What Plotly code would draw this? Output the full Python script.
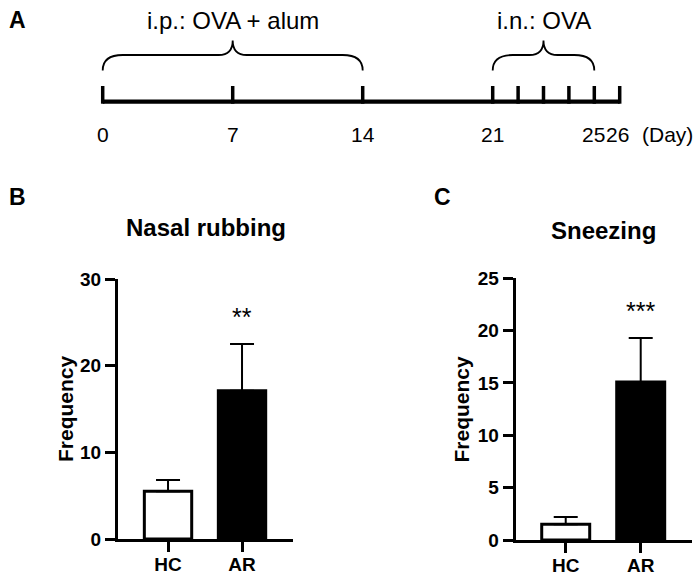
import plotly.graph_objects as go

# ---------------- data ----------------
timeline_days = [0, 7, 14, 21, 22, 23, 24, 25, 26]
labeled_days = [0, 7, 14, 21, 25, 26]
ip_span = [0, 14]
in_span = [21, 25]
ip_label = "i.p.: OVA + alum"
in_label = "i.n.: OVA"
day_unit = "(Day)"

groups = ["HC", "AR"]
nasal_mean = [5.5, 17.1]
nasal_sem = [1.3, 5.4]
nasal_sig = "**"
sneeze_mean = [1.5, 15.1]
sneeze_sem = [0.7, 4.2]
sneeze_sig = "***"

# ---------------- layout constants ----------------
W, H = 700, 584
FONT = "Liberation Sans, Arial, sans-serif"
PX_PER_DAY = (492.7 - 102.7) / 21
LATE_FACTOR = 25.4 / PX_PER_DAY  # schematic: days after 21 are drawn wider


def pos(d):
    return d if d <= 21 else 21 + (d - 21) * LATE_FACTOR


LINE_Y, TICK_TOP = 101.7, 86.0
BR_END, BR_MID, BR_PEAK = 70.5, 55.0, 40.5
LABEL_Y, TEXT_Y = 134.0, 20.0

fig = go.Figure()

# timeline base line
fig.add_trace(go.Scatter(x=[pos(timeline_days[0]), pos(timeline_days[-1])], y=[LINE_Y, LINE_Y],
                         mode="lines", line=dict(color="black", width=4.2),
                         xaxis="x", yaxis="y", hoverinfo="skip", showlegend=False))
# timeline ticks
tx, ty = [], []
for d in timeline_days:
    tx += [pos(d), pos(d), None]
    ty += [LINE_Y + 2, TICK_TOP, None]
fig.add_trace(go.Scatter(x=tx, y=ty, mode="lines", line=dict(color="black", width=3.5),
                         xaxis="x", yaxis="y", hoverinfo="skip", showlegend=False))


def brace_path(d0, d1):
    x0, x1 = pos(d0), pos(d1)
    xm = (x0 + x1) / 2
    r = 20 / PX_PER_DAY
    r2 = 14 / PX_PER_DAY
    return (f"M {x0},{BR_END} Q {x0},{BR_MID} {x0 + r},{BR_MID} "
            f"L {xm - r2},{BR_MID} Q {xm},{BR_MID} {xm},{BR_PEAK} "
            f"Q {xm},{BR_MID} {xm + r2},{BR_MID} "
            f"L {x1 - r},{BR_MID} Q {x1},{BR_MID} {x1},{BR_END}")


shapes = []
annotations = []
for span, lab in [(ip_span, ip_label), (in_span, in_label)]:
    shapes.append(dict(type="path", path=brace_path(*span), xref="x", yref="y",
                       line=dict(color="black", width=1.8)))
    annotations.append(dict(x=(pos(span[0]) + pos(span[1])) / 2, y=TEXT_Y, xref="x", yref="y",
                            text=lab, showarrow=False, font=dict(family=FONT, size=24, color="black")))

label_nudge = {25: -1, 26: -2}
for d in labeled_days:
    annotations.append(dict(x=pos(d), y=LABEL_Y, xref="x", yref="y", text=str(d), showarrow=False,
                            xshift=label_nudge.get(d, 0),
                            font=dict(family=FONT, size=21, color="black")))
annotations.append(dict(x=pos(timeline_days[-1]), y=LABEL_Y, xref="x", yref="y", text=day_unit,
                        showarrow=False, xanchor="left", xshift=20,
                        font=dict(family=FONT, size=21, color="black")))

# bar panels
for mean, sem, xa, ya in [(nasal_mean, nasal_sem, "x2", "y2"), (sneeze_mean, sneeze_sem, "x3", "y3")]:
    fig.add_trace(go.Bar(x=groups, y=mean, width=0.64,
                         marker=dict(color=["white", "black"], line=dict(color="black", width=3)),
                         error_y=dict(type="data", array=sem, arrayminus=[0] * len(sem), symmetric=False,
                                      color="black", thickness=2, width=12),
                         xaxis=xa, yaxis=ya, hoverinfo="skip", showlegend=False))

annotations.append(dict(x=groups[1], y=26.2, xref="x2", yref="y2", text=nasal_sig, showarrow=False,
                        yanchor="middle", yshift=-5, font=dict(family=FONT, size=25, color="black")))
annotations.append(dict(x=groups[1], y=22.4, xref="x3", yref="y3", text=sneeze_sig, showarrow=False,
                        yanchor="middle", yshift=-5, font=dict(family=FONT, size=25, color="black")))


# titles, axis titles, panel letters (paper coords from pixel positions)
def px(x, y):
    return x / W, 1 - y / H


for txt, (x, y), size in [("Nasal rubbing", px(205.5, 227), 24), ("Sneezing", px(603.7, 230), 24),
                          ("A", px(17, 20), 23), ("B", px(17, 197), 23), ("C", px(442, 197), 23)]:
    annotations.append(dict(x=x, y=y, xref="paper", yref="paper", text=txt, showarrow=False,
                            xanchor="center", yanchor="middle",
                            font=dict(family=FONT, size=size, color="black", weight="bold")))
for x in [65, 460.5]:
    xx, yy = px(x, 409)
    annotations.append(dict(x=xx, y=yy, xref="paper", yref="paper", text="Frequency", showarrow=False,
                            textangle=-90, xanchor="center", yanchor="middle",
                            font=dict(family=FONT, size=21, color="black", weight="bold")))

axis_style = dict(showline=True, linewidth=3, linecolor="black", ticks="outside", ticklen=10,
                  tickwidth=3, tickcolor="black", showgrid=False, zeroline=False, automargin=False,
                  tickfont=dict(family=FONT, size=19, color="black", weight="bold"), fixedrange=True)
xcat_style = {**axis_style, "ticklabelstandoff": -4,
              "tickfont": dict(family=FONT, size=19, color="black", weight="bold")}

fig.update_layout(
    template="none",
    width=W, height=H, margin=dict(l=0, r=0, t=0, b=0, pad=0, autoexpand=False),
    paper_bgcolor="white", plot_bgcolor="white", showlegend=False,
    xaxis=dict(domain=[0, 1], range=[-102.7 / PX_PER_DAY, (W - 102.7) / PX_PER_DAY], visible=False,
               automargin=False, fixedrange=True),
    yaxis=dict(domain=[1 - 150 / H, 1], range=[150, 0], visible=False, automargin=False, fixedrange=True),
    xaxis2=dict(domain=[118 / W, 293 / W], anchor="y2", type="category", range=[-0.676, 1.689], **xcat_style),
    yaxis2=dict(domain=[1 - 539 / H, 1 - 279 / H], anchor="x2", range=[0, 30], tickvals=[0, 10, 20, 30], **axis_style),
    xaxis3=dict(domain=[515.7 / W, 691.7 / W], anchor="y3", type="category", range=[-0.667, 1.68], **xcat_style),
    yaxis3=dict(domain=[1 - 540 / H, 1 - 278.3 / H], anchor="x3", range=[0, 25], tickvals=[0, 5, 10, 15, 20, 25], **axis_style),
    shapes=shapes, annotations=annotations,
)

fig.write_html("out.html", config={"displayModeBar": False},
               post_script="document.body.style.margin='0';document.body.style.padding='0';")
